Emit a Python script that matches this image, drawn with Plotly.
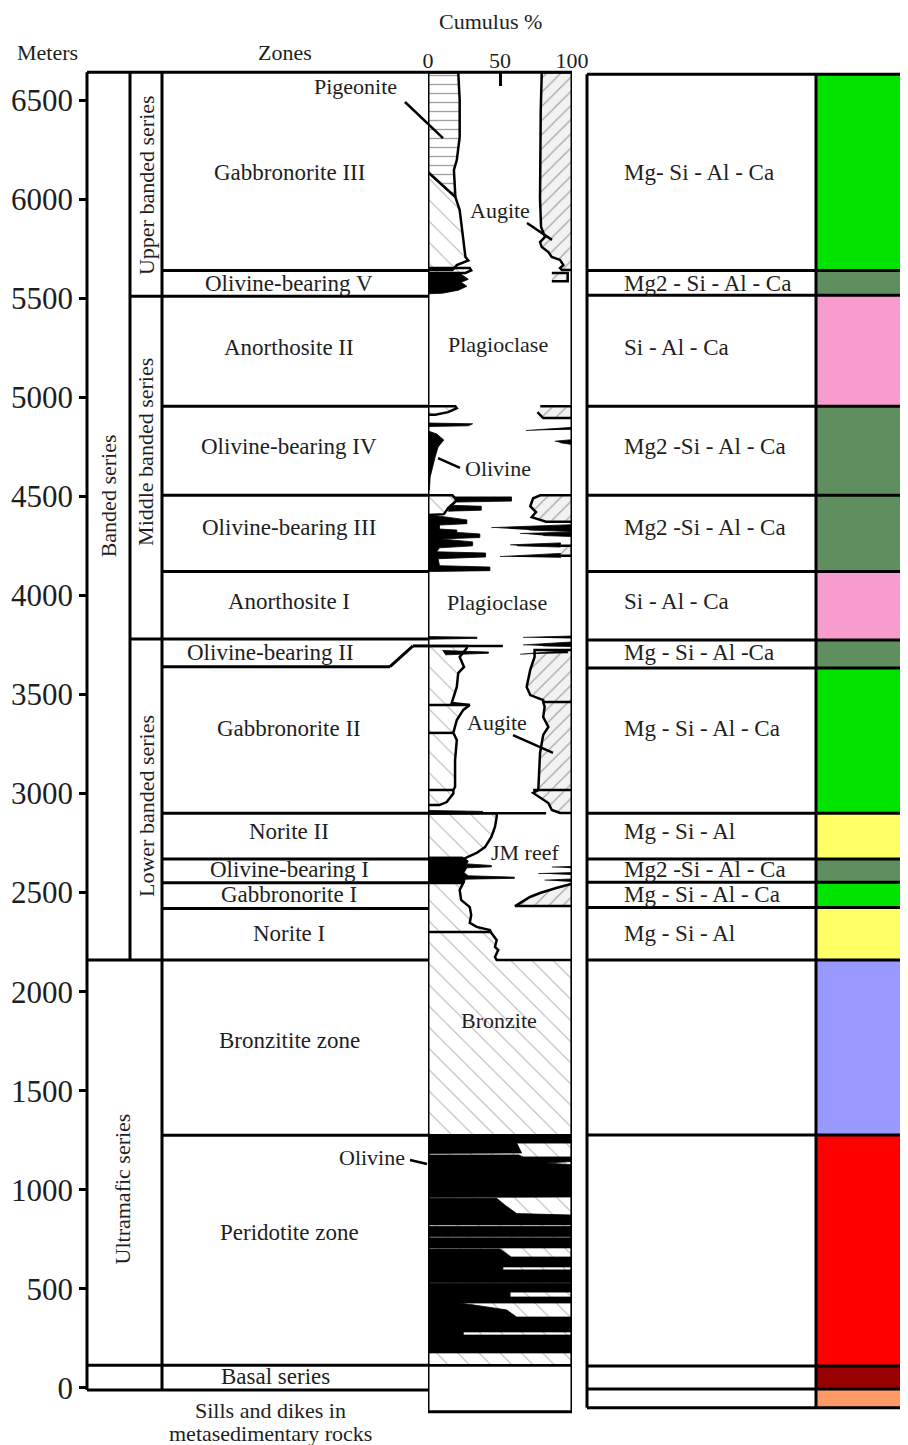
import plotly.graph_objects as go

# ---------------- data ----------------
depth_ticks = [0, 500, 1000, 1500, 2000, 2500, 3000, 3500, 4000, 4500, 5000, 5500, 6000, 6500]
cumulus_ticks = [0, 50, 100]

zone_names = ["Gabbronorite III", "Olivine-bearing V", "Anorthosite II", "Olivine-bearing IV",
              "Olivine-bearing III", "Anorthosite I", "Olivine-bearing II", "Gabbronorite II",
              "Norite II", "Olivine-bearing I", "Gabbronorite I", "Norite I",
              "Bronzitite zone", "Peridotite zone", "Basal series"]
zone_tops_m = [6640, 5640, 5510, 4955, 4505, 4120, 3780, 3640, 2900, 2670, 2550, 2420, 2160, 1275, 115]
zone_base_m = -10
zone_label_m = [6136, 5576, 5253, 4749, 4345, 3967, 3714, 3326, 2806, 2619, 2493, 2296, 1756, 787, 56]
ob2_base_m = [3640, 3640, 3745, 3745]

outer_series = ["Banded series", "Ultramafic series"]
outer_tops_m = [6640, 2160]
outer_label_m = [4500, 1002]
inner_series = ["Upper banded series", "Middle banded series", "Lower banded series"]
inner_tops_m = [6640, 5510, 3780]
inner_base_m = 2160
inner_label_m = [6071, 4724, 2937]

chem_labels = ["Mg- Si - Al - Ca", "Mg2 - Si - Al - Ca", "Si - Al - Ca", "Mg2 -Si - Al - Ca",
               "Mg2 -Si - Al - Ca", "Si - Al - Ca", "Mg - Si - Al -Ca", "Mg - Si - Al - Ca",
               "Mg - Si - Al", "Mg2 -Si - Al - Ca", "Mg - Si - Al - Ca", "Mg - Si - Al",
               "", "", "", ""]
chem_tops_m = [6630, 5640, 5515, 4955, 4505, 4120, 3775, 3633, 2900, 2670, 2552, 2425, 2160, 1277, 111, -5]
chem_base_m = -100
chem_colors = ["#00e400", "#5f8f5f", "#f79ccd", "#5f8f5f", "#5f8f5f", "#f79ccd", "#5f8f5f", "#00e400",
               "#ffff66", "#5f8f5f", "#00e400", "#ffff66", "#9999ff", "#ff0000", "#990000", "#ff9966"]

cumulus_top_m = 6640
cumulus_base_m = -120

# cumulus profiles: polygons (percent, metres), separated by None
pigeonite_pct = [0, 21, 22, 22, 20, 18, 19, 0]
pigeonite_m = [6640, 6640, 6500, 6313, 6197, 6147, 6011, 6137]

opx_pct = [0, 19, 22, 23.5, 25, 26, 28, 20, 17, 0, None,
           0, 29, 30, 26, 0, None,
           0, 19, 20, 14, 5, 0, None,
           0, 17, 20, 14, 11, 0, None,
           0, 27, 27, 22, 25, 21, 20, 17.6, 16.5, 29, 24.5, 20, 18.8, 17.6, 20, 18.8, 18.8, 17.6, 17.6, 13, 8, 0, None,
           0, 47.7, 47.7, 46.5, 44, 39.6, 33.8, 26.9, 24, 0, None,
           0, 24.5, 22, 23, 29, 30, 29, 33.8, 43, 44, 47.7, 46.5, 48.8, 46.5, 47.7, 100, 100, 0]
opx_m = [6137, 6011, 5945, 5859, 5758, 5708, 5690, 5667, 5642, 5642, None,
         5652, 5652, 5640, 5627, 5627, None,
         4955, 4955, 4945, 4925, 4912, 4912, None,
         4505, 4505, 4480, 4440, 4410, 4406, None,
         3745, 3745, 3735, 3689, 3639, 3608, 3538, 3482, 3457, 3447, 3422, 3371, 3336, 3306, 3270, 3169, 3033, 3018, 3000, 2957, 2942, 2942, None,
         2900, 2900, 2882, 2831, 2781, 2730, 2700, 2675, 2668, 2668, None,
         2548, 2549, 2513, 2463, 2427, 2387, 2347, 2327, 2311, 2296, 2261, 2226, 2210, 2175, 2160, 2160, 115, 115]

augite_pct = [100, 79, 78.3, 78, 77.8, 78.5, 81.3, 77.8, 79, 83.6, 85.9, 91.7, 94, 91.7, 93, 100, None,
              86, 97, 97, 86, None,
              78, 100, 100, 80, 76, None,
              100, 78, 73, 71, 75, 72, 82, 100, None,
              92, 100, 100, 92, None,
              100, 74, 74, 71, 68.5, 71, 80, 80, 81, 80, 83.6, 80, 77.8, 76.6, 76.6, 73, 83.6, 86, 91.7, 100, None,
              100, 96, 89, 77.8, 70.8, 61.6, 60.4, 100]
augite_m = [6640, 6640, 6450, 6200, 6000, 5860, 5809, 5783, 5758, 5733, 5708, 5693, 5667, 5652, 5642, 5642, None,
            5627, 5627, 5585, 5585, None,
            4955, 4955, 4895, 4895, 4925, None,
            4505, 4505, 4490, 4450, 4420, 4395, 4372, 4372, None,
            4250, 4250, 4200, 4200, None,
            3725, 3725, 3689, 3624, 3538, 3497, 3472, 3462, 3437, 3386, 3336, 3296, 3205, 3068, 3018, 3003, 2952, 2917, 2902, 2902, None,
            2545, 2538, 2523, 2498, 2478, 2437, 2432, 2432]

olivine_pct = [0, 22, 25, 28, 23, 27, 21, 10, 0, None,
               0, 31, 28, 0, None,
               0, 6, 11, 7, 5, 3, 1.5, 1, 0, None,
               68, 100, 100, None,
               88, 100, 100, 92, None,
               17, 58, 58, 20, None,
               15, 37, 37, 14, None,
               0, 8, 27, 27, 8, 8, 20, 20, 36, 36, 9, 31, 31, 8, 6, 40, 40, 7, 8, 43, 43, 0, None,
               44, 100, 100, 70, None,
               64, 100, 100, 80, None,
               57, 92, 92, 62, None,
               50, 92, 92, None,
               0, 34, 34, 0, None,
               66, 100, 100, None,
               66, 100, 100, 80, None,
               10, 42, 42, 12, None,
               64, 97, 97, None,
               0, 38, 38, 0, None,
               0, 24, 28, 27, 44, 44, 27, 25, 28, 60, 60, 26, 25, 0, None,
               86, 100, 100, None,
               76.6, 100, 100, None,
               81, 100, 100, None,
               0, 100, 100, 61.6, 65, 3.7, 0, None,
               0, 63, 66, 100, 100, 82, 100, 100, 0, None,
               0, 47.7, 54, 61.6, 100, 100, 0, None,
               0, 100, 100, 0, None,
               0, 100, 100, 0, None,
               0, 50, 57.6, 100, 100, 52, 52, 100, 100, 0, None,
               0, 100, 100, 57, 57, 100, 100, 22, 40, 54.6, 61.6, 100, 100, 24.5, 24.5, 100, 100, 0]
olivine_m = [5627, 5627, 5610, 5595, 5580, 5560, 5540, 5525, 5522, None,
             4870, 4866, 4856, 4852, None,
             4830, 4815, 4784, 4749, 4699, 4648, 4598, 4532, 4532, None,
             4832, 4848, 4836, None,
             4778, 4786, 4762, 4770, None,
             4497, 4497, 4476, 4471, None,
             4455, 4450, 4430, 4425, None,
             4406, 4400, 4381, 4362, 4355, 4335, 4330, 4318, 4310, 4292, 4285, 4270, 4250, 4240, 4220, 4214, 4194, 4185, 4150, 4143, 4125, 4120, None,
             4342, 4357, 4322, 4330, None,
             4312, 4320, 4297, 4302, None,
             4255, 4265, 4244, 4250, None,
             4196, 4212, 4190, None,
             3792, 3789, 3783, 3779, None,
             3788, 3795, 3782, None,
             3750, 3765, 3742, 3745, None,
             3722, 3714, 3708, 3700, None,
             3703, 3722, 3708, None,
             2915, 2910, 2898, 2895, None,
             2680, 2680, 2660, 2645, 2637, 2630, 2625, 2600, 2585, 2578, 2572, 2568, 2550, 2548, None,
             2629, 2632, 2623, None,
             2596, 2601, 2589, None,
             2563, 2569, 2554, None,
             1275, 1275, 1236, 1236, 1186, 1184, 1184, None,
             1176, 1176, 1166, 1166, 1143, 1135, 1127, 964, 962, None,
             957, 957, 920, 880, 873, 823, 823, None,
             815, 815, 765, 765, None,
             758, 758, 707, 707, None,
             702, 702, 661, 661, 611, 611, 596, 596, 532, 532, None,
             528, 528, 484, 484, 459, 459, 429, 429, 410, 394, 358, 358, 283, 283, 267, 267, 177, 177]

inner_line_pct = [0, 52, None, 0, 29, None, 0, 18, None, 0, 18, None, 80, 100, None, 73, 100, None,
                  0, 82, None, 0, 44, None, 0, 100, None, 0, 100]
inner_line_m = [3745, 3745, None, 3447, 3447, None, 3306, 3306, None, 3018, 3018, None, 3462, 3462, None,
                3018, 3018, None, 2900, 2900, None, 2301, 2301, None, 1275, 1275, None, 115, 115]

mineral_labels = ["Pigeonite", "Augite", "Plagioclase", "Olivine", "Plagioclase", "Augite", "JM reef", "Bronzite", "Olivine"]
mineral_label_x = [355, 500, 498, 498, 497, 497, 525, 499, 372]
mineral_label_m = [6566, 5940, 5264, 4638, 3962, 3361, 2705, 1857, 1161]
leader_x0 = [405, 527, 438, 513, 410]
leader_m0 = [6490, 5879, 4693, 3295, 1151]
leader_x1 = [443, 552, 460, 553, 427]
leader_m1 = [6308, 5794, 4643, 3205, 1130]

# ---------------- layout constants ----------------
# The page body has an 8 px margin, so the figure is 900x1437 and starts at (8, 8).
FONT = "Liberation Serif"
TXT = "#1e1e1e"
W, H, OFF = 900, 1437, 8
X_OUT, X_IN, X_ZONE, X_CUM0, X_CUM1 = 87, 130, 162, 428, 572
X_CH0, X_CH1, X_CH2 = 587, 816, 915
LW = 3

fig = go.Figure()

def add_poly(xs, ys, fill, pattern=None, lw=2.5, lcolor="black"):
    kw = dict(x=xs, y=ys, xaxis="x2", yaxis="y", mode="lines", fill="toself", fillcolor=fill,
              line=dict(color=lcolor, width=lw), hoverinfo="skip", showlegend=False)
    if pattern:
        kw["fillpattern"] = pattern
    fig.add_trace(go.Scatter(**kw))

add_poly(opx_pct, opx_m, "white",
         dict(shape="\\", fgcolor="#6a6a6a", bgcolor="white", size=15, solidity=0.07))
add_poly(pigeonite_pct, pigeonite_m, "white",
         dict(shape="-", fgcolor="#444444", bgcolor="white", size=9, solidity=0.15))
add_poly(augite_pct, augite_m, "#f2f2f2",
         dict(shape="/", fgcolor="#555555", bgcolor="#f2f2f2", size=10, solidity=0.12))
add_poly(olivine_pct, olivine_m, "black", lw=0.8)
fig.add_trace(go.Scatter(x=inner_line_pct, y=inner_line_m, xaxis="x2", yaxis="y", mode="lines",
                         line=dict(color="black", width=2.5), hoverinfo="skip", showlegend=False))

shapes = []
def hline(x0, x1, y, ref="x", w=LW):
    shapes.append(dict(type="line", xref=ref, yref="y", x0=x0, x1=x1, y0=y, y1=y,
                       line=dict(color="black", width=w)))
def vline(x, y0, y1, ref="x", w=LW):
    shapes.append(dict(type="line", xref=ref, yref="y", x0=x, x1=x, y0=y0, y1=y1,
                       line=dict(color="black", width=w)))

# chemistry colour column
for i, c in enumerate(chem_colors):
    top = chem_tops_m[i]
    bot = chem_tops_m[i + 1] if i + 1 < len(chem_tops_m) else chem_base_m
    shapes.append(dict(type="rect", xref="x", yref="y", x0=X_CH1, x1=X_CH2, y0=bot, y1=top,
                       fillcolor=c, line=dict(width=0)))
for t in chem_tops_m + [chem_base_m]:
    hline(X_CH0, X_CH2, t)
vline(X_CH0, chem_base_m, chem_tops_m[0])
vline(X_CH1, chem_base_m, chem_tops_m[0])

# zones frame
hline(X_OUT, X_CUM0, zone_tops_m[0])
hline(X_OUT, X_CUM0, zone_base_m)
for i, t in enumerate(zone_tops_m[1:], start=1):
    if zone_names[i] == "Gabbronorite II":
        xs = [X_ZONE, 390, 413, X_CUM0]
        for k in range(3):
            shapes.append(dict(type="line", xref="x", yref="y", x0=xs[k], x1=xs[k + 1],
                               y0=ob2_base_m[k], y1=ob2_base_m[k + 1], line=dict(color="black", width=LW)))
        continue
    if t in outer_tops_m or t == zone_tops_m[-1]:
        x0 = X_OUT
    elif t in inner_tops_m:
        x0 = X_IN
    else:
        x0 = X_ZONE
    hline(x0, X_CUM0, t)
vline(X_OUT, zone_base_m, zone_tops_m[0])
vline(X_IN, inner_base_m, zone_tops_m[0])
vline(X_ZONE, zone_base_m, zone_tops_m[0])

# cumulus column frame
shapes.append(dict(type="rect", xref="x2", yref="y", x0=0, x1=100, y0=cumulus_base_m, y1=cumulus_top_m,
                   line=dict(color="black", width=LW), fillcolor="rgba(0,0,0,0)"))

# leader lines
for a, b, c, d in zip(leader_x0, leader_m0, leader_x1, leader_m1):
    shapes.append(dict(type="line", xref="x", yref="y", x0=a, y0=b, x1=c, y1=d,
                       line=dict(color="black", width=2.5)))

ann = []
def text(x, y, s, size=23, angle=0, xanchor="center", ref="x"):
    ann.append(dict(x=x, y=y, xref=ref, yref="y", text=s, showarrow=False, textangle=angle,
                    xanchor=xanchor, yanchor="middle", font=dict(family=FONT, size=size, color=TXT)))

for i, name in enumerate(zone_names):
    x = 270 if name == "Olivine-bearing II" else (275 if name == "Basal series" else 289)
    text(x, zone_label_m[i], name)
for name, m, x in zip(outer_series, outer_label_m, [108, 122]):
    text(x, m, name, size=22, angle=-90)
for name, m in zip(inner_series, inner_label_m):
    text(146, m, name, size=22, angle=-90)
for i, s in enumerate(chem_labels):
    if s:
        text(622, zone_label_m[i], s, xanchor="left")
for s, x, m in zip(mineral_labels, mineral_label_x, mineral_label_m):
    text(x, m, s, size=22)
text(47, 6742, "Meters", size=22)
text(285, 6742, "Zones", size=22)
text(490, 6895, "Cumulus %", size=22)
text(270, -116, "Sills and dikes in", size=22)
text(270, -232, "metasedimentary rocks", size=22)

fig.update_layout(
    width=W, height=H, margin=dict(l=0, r=0, t=0, b=0),
    paper_bgcolor="white", plot_bgcolor="rgba(0,0,0,0)",
    shapes=shapes, annotations=ann, showlegend=False,
    xaxis=dict(range=[OFF, W + OFF], domain=[0, 1], visible=False, fixedrange=True),
    xaxis2=dict(range=[0, 100], domain=[(X_CUM0 - OFF) / W, (X_CUM1 - OFF) / W], anchor="free",
                position=1 - (72 - OFF) / H, side="top", tickvals=cumulus_ticks,
                ticktext=[str(v) for v in cumulus_ticks], ticks="inside", ticklen=13, tickwidth=3,
                tickcolor="black", showline=False, showgrid=False, zeroline=False,
                tickfont=dict(family=FONT, size=22, color=TXT), automargin=False),
    yaxis=dict(range=[-287.7, 6964.4], domain=[0, 1], anchor="free", position=(X_OUT - OFF) / W - 0.001,
               tickvals=depth_ticks, ticks="outside", ticklen=7, tickwidth=3, tickcolor="black",
               showline=False, showgrid=False, zeroline=False, automargin=False,
               tickfont=dict(family=FONT, size=31, color=TXT)),
)

fig.write_html("out.html")
